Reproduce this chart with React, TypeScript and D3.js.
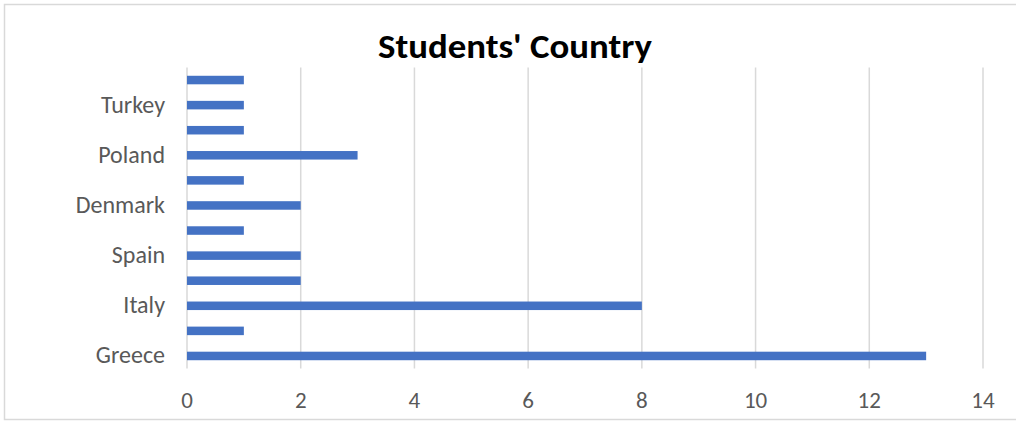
import React from "react";
import * as d3 from "d3";

// Countries listed from the bottom of the chart upward; only every other name is shown on the axis.
const countries = [
  "Greece", "Cyprus", "Italy", "Portugal", "Spain", "France",
  "Denmark", "Germany", "Poland", "Lithuania", "Turkey", "Romania",
];
const students = [13, 1, 8, 2, 2, 1, 2, 1, 3, 1, 1, 1];
const xTicks = [0, 2, 4, 6, 8, 10, 12, 14];
const title = "Students' Country";

const W = 1016;
const H = 421;
const plot = { left: 187, right: 983, top: 67.5, bottom: 368.5 };

export default function App() {
  const x = d3.scaleLinear().domain([0, 14]).range([plot.left, plot.right]);
  const y = d3
    .scaleBand<string>()
    .domain(countries)
    .range([plot.bottom, plot.top])
    .paddingInner(0.66)
    .paddingOuter(0.33);
  const font = "Carlito, 'Open Sans', 'Liberation Sans', sans-serif";

  return (
    <svg
      width={W}
      height={H}
      style={{ position: "absolute", left: 0, top: 0, background: "#fff" }}
    >
      <rect x={4.5} y={4.5} width={W + 10} height={H - 6} fill="#fff" stroke="#d9d9d9" strokeWidth={1.5} />
      <text
        x={378}
        y={58}
        fontFamily={font}
        fontWeight="bold"
        fontSize={34}
        textLength={274}
        lengthAdjust="spacingAndGlyphs"
        fill="#000"
      >
        {title}
      </text>
      {xTicks.map((t) => (
        <g key={t}>
          <line
            x1={x(t)}
            x2={x(t)}
            y1={plot.top}
            y2={plot.bottom}
            stroke="#d9d9d9"
            strokeWidth={1.5}
          />
          <text
            x={x(t)}
            y={408}
            textAnchor="middle"
            fontFamily={font}
            fontSize={23}
            fill="#595959"
          >
            {t}
          </text>
        </g>
      ))}
      {countries.map((c, i) => (
        <rect
          key={c}
          x={x(0)}
          y={y(c)!}
          width={x(students[i]) - x(0)}
          height={y.bandwidth()}
          fill="#4472c4"
        />
      ))}
      {countries.map((c, i) =>
        i % 2 === 0 ? (
          <text
            key={c}
            x={165}
            y={y(c)! + y.bandwidth() / 2 + 7.5}
            textAnchor="end"
            fontFamily={font}
            fontSize={24}
            fill="#595959"
          >
            {c}
          </text>
        ) : null
      )}
    </svg>
  );
}
